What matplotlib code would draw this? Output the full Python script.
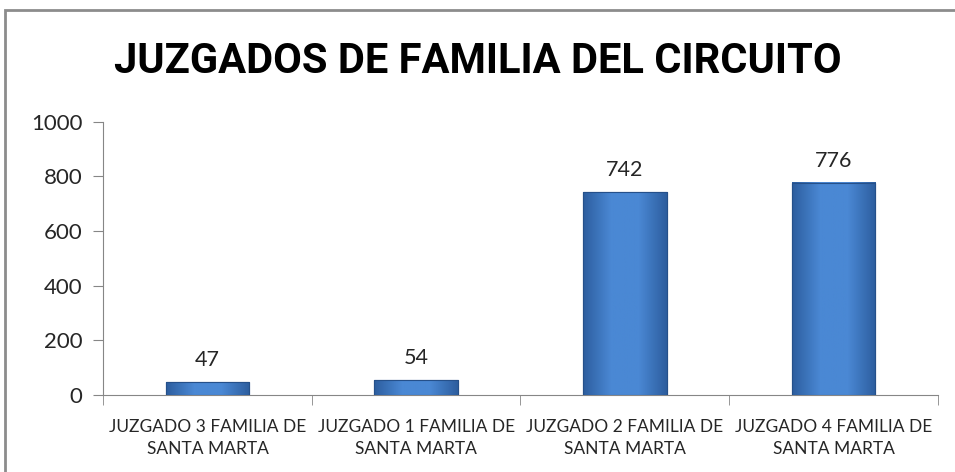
import matplotlib.pyplot as plt
import numpy as np
from matplotlib.patches import Rectangle
from matplotlib.colors import LinearSegmentedColormap

# datos
categorias = ["JUZGADO 3 FAMILIA DE\nSANTA MARTA",
              "JUZGADO 1 FAMILIA DE\nSANTA MARTA",
              "JUZGADO 2 FAMILIA DE\nSANTA MARTA",
              "JUZGADO 4 FAMILIA DE\nSANTA MARTA"]
valores = [47, 54, 742, 776]
titulo = "JUZGADOS DE FAMILIA DEL CIRCUITO"
y_ticks = [0, 200, 400, 600, 800, 1000]

plt.rcParams['font.family'] = ['Lato', 'DejaVu Sans']

fig = plt.figure(figsize=(9.55, 4.72), dpi=100)
ax = fig.add_axes([0.108, 0.163, 0.874, 0.579])

x = np.arange(len(valores))
bars = ax.bar(x, valores, width=0.4, color="#3C78C6", edgecolor="#2A5794", linewidth=0.8, zorder=2)

# degradado horizontal dentro de cada barra
cmap = LinearSegmentedColormap.from_list("azul", ["#2D5E9F", "#4A88D4", "#4A88D4", "#2D5E9F"])
grad = np.linspace(0, 1, 100).reshape(1, -1)
for b in bars:
    ax.imshow(grad, cmap=cmap, aspect="auto", zorder=3,
              extent=[b.get_x(), b.get_x() + b.get_width(), 0, b.get_height()])
    ax.add_patch(Rectangle((b.get_x(), 0), b.get_width(), b.get_height(), fill=False,
                           ec="#25508a", lw=0.8, zorder=4))

for xi, v in zip(x, valores):
    ax.text(xi, v + 45, str(v), ha="center", va="bottom", fontsize=15.5, color="#262626")

ax.set_xlim(-0.5, len(valores) - 0.5)
ax.set_ylim(0, 1000)
ax.set_yticks(y_ticks)
ax.set_xticks(x)
ax.set_xticklabels(categorias, fontsize=12.5, color="#262626", linespacing=1.45)
ax.set_xticks(np.arange(-0.5, len(valores)), minor=True)
ax.tick_params(axis="x", which="major", length=0, pad=17)
ax.tick_params(axis="x", which="minor", length=7, color="#868686")
ax.tick_params(axis="y", length=7, color="#868686", labelsize=16, labelcolor="#262626", pad=8)

for s in ["top", "right"]:
    ax.spines[s].set_visible(False)
for s in ["left", "bottom"]:
    ax.spines[s].set_color("#868686")

fig.text(0.5, 0.869, titulo, ha="center", va="center", fontsize=30, fontweight="bold",
         color="black", family=["Roboto", "DejaVu Sans"])

fig.add_artist(Rectangle((5 / 955, -0.1), 2, 1.1 - 10 / 472, transform=fig.transFigure,
                         fill=False, ec="#8c8c8c", lw=2))

fig.savefig("out.png", dpi=100)
